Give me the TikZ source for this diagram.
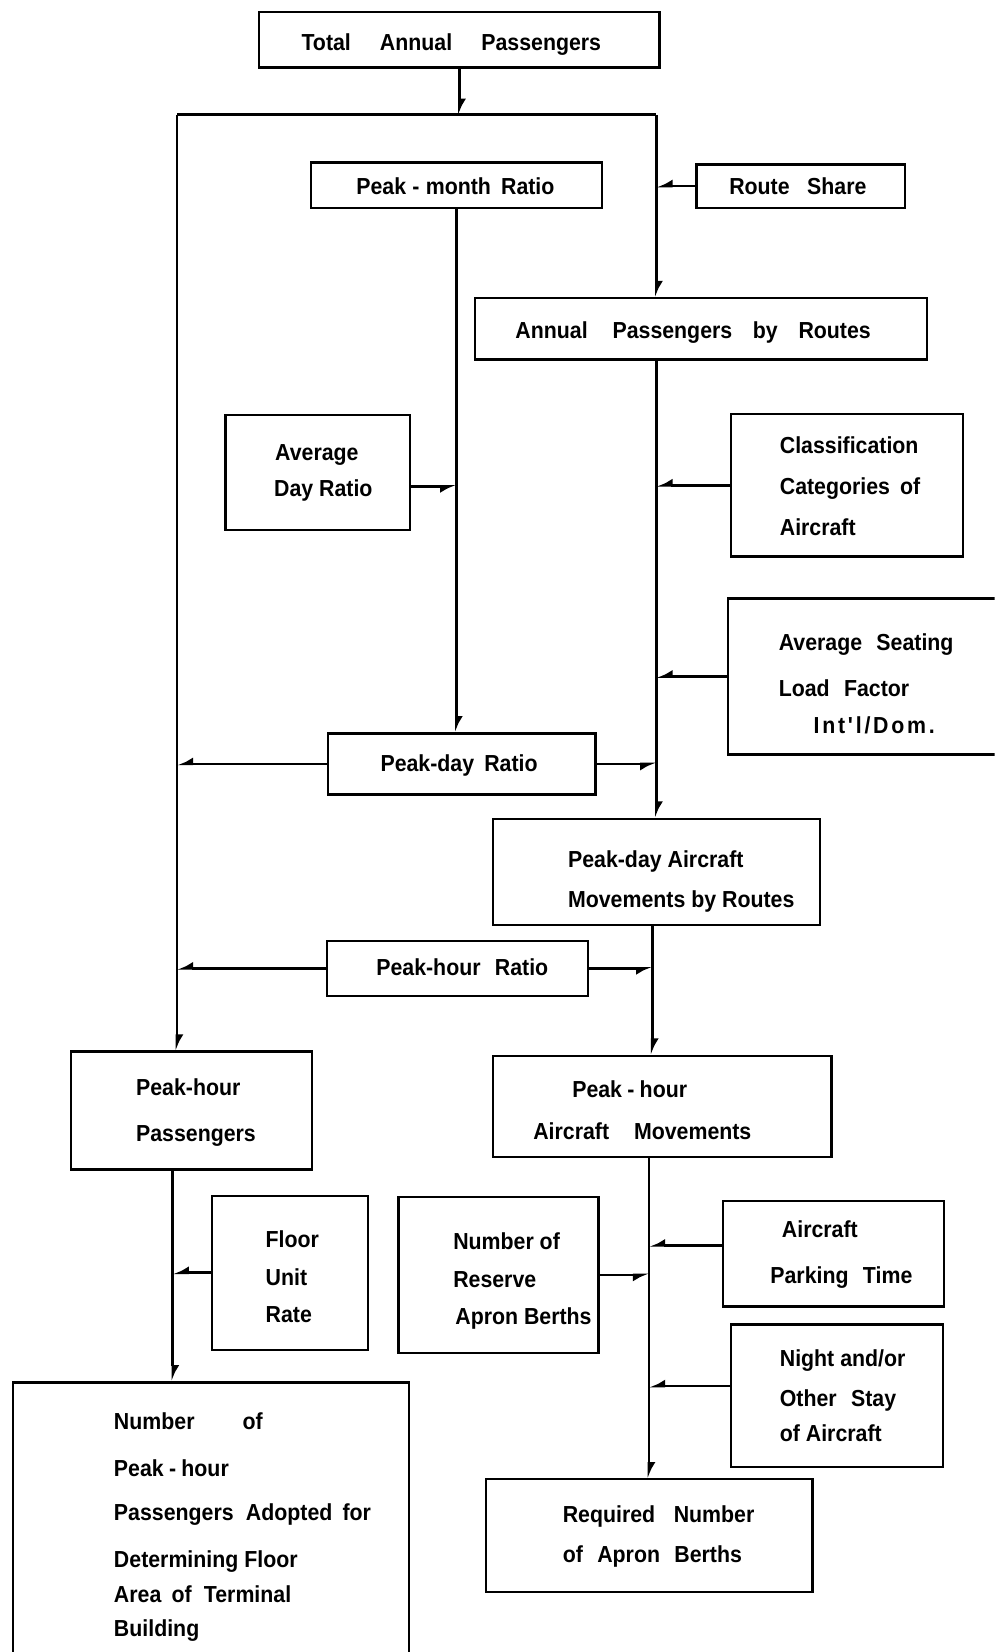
\documentclass[tikz,border=0pt]{standalone}
\usepackage{fontspec}
\usetikzlibrary{arrows.meta}
\newfontfamily\labfont[FakeStretch=0.92]{Liberation Sans}
\newcommand{\wgap}[1]{\hspace{#1pt}}
\newcommand{\tline}[4]{\node[txt] (#1) at (#2,#3) {#4};}
\newcommand{\bx}[5]{\node[boxed, minimum width={(#4-#2)*1pt}, minimum height={(#5-#3)*1pt}] (#1) at (#2,#3) {};}
\tikzset{
  boxed/.style={draw, line width=2.2pt, inner sep=0pt, anchor=north west},
  txt/.style={font=\labfont\bfseries\fontsize{22}{26}\selectfont, inner sep=0pt, anchor=base west},
  conn/.style={line width=2.6pt},
  link/.style={conn, -{Latex[harpoon, length=12pt, width=13pt]}},
  linkb/.style={conn, -{Latex[harpoon, swap, length=12pt, width=13pt]}}
}
\begin{document}
\begin{tikzpicture}[x=1pt, y=-1pt]
\fill[white] (0,0) rectangle (944,1568);
\path[use as bounding box] (0,0) rectangle (944,1568);
\clip (0,0) rectangle (944,1568);

% boxes
\bx{tot}{245}{10}{625}{63}
\bx{pmr}{294}{153}{570}{196}
\bx{rs}{660}{155}{858}{196}
\bx{apr}{450}{282}{879}{340}
\bx{adr}{213}{393}{388}{502}
\bx{cca}{693}{392}{913}{527}
\bx{asl}{690}{567}{960}{715}
\bx{pdr}{310}{695}{564}{753}
\bx{pdac}{467}{776}{777}{877}
\bx{phr}{309}{892}{557}{944}
\bx{php}{66}{997}{295}{1109}
\bx{pham}{467}{1001}{788}{1097}
\bx{fur}{200}{1134}{348}{1280}
\bx{nrab}{377}{1135}{567}{1283}
\bx{apt}{685}{1139}{895}{1239}
\bx{nos}{693}{1256}{894}{1391}
\bx{rnab}{460}{1403}{770}{1510}
\bx{nph}{11}{1311}{387}{1600}

% texts
\tline{t1}{286}{47.5}{Total \wgap{22}Annual \wgap{22}Passengers}
\tline{t2}{338}{185}{Peak\kern6pt-\kern6pt month \wgap{4}Ratio}
\tline{t3}{692}{185}{Route \wgap{11}Share}
\tline{t4}{489}{321}{Annual \wgap{18}Passengers \wgap{14}by \wgap{14}Routes}
\tline{t5a}{261}{437}{Average}
\tline{t5b}{260}{471}{Day Ratio}
\tline{t6a}{740}{430}{Classification}
\tline{t6b}{740}{469}{Categories \wgap{4}of}
\tline{t6c}{740}{508}{Aircraft}
\tline{t7a}{739}{617}{Average \wgap{8}Seating}
\tline{t7b}{739}{661}{Load \wgap{8}Factor}
\tline{t7c}{772}{696}{\addfontfeature{LetterSpace=12}Int'l/Dom.}
\tline{t8}{361}{732}{Peak-day \wgap{4}Ratio}
\tline{t9a}{539}{823}{Peak-day Aircraft}
\tline{t9b}{539}{861}{Movements by Routes}
\tline{t10}{357}{926}{Peak-hour \wgap{8}Ratio}
\tline{t11a}{129}{1040}{Peak-hour}
\tline{t11b}{129}{1083}{Passengers}
\tline{t12a}{543}{1042}{Peak\kern5pt-\kern5pt hour}
\tline{t12b}{506}{1082}{Aircraft \wgap{18}Movements}
\tline{t13a}{252}{1184}{Floor}
\tline{t13b}{252}{1220}{Unit}
\tline{t13c}{252}{1255}{Rate}
\tline{t14a}{430}{1186}{Number of}
\tline{t14b}{430}{1222}{Reserve}
\tline{t14c}{432}{1257}{Apron Berths}
\tline{t15a}{742}{1175}{Aircraft}
\tline{t15b}{731}{1218}{Parking \wgap{8}Time}
\tline{t16a}{740}{1297}{Night and/or}
\tline{t16b}{740}{1335}{Other \wgap{8}Stay}
\tline{t16c}{740}{1368}{of Aircraft}
\tline{t17a}{534}{1445}{Required \wgap{12}Number}
\tline{t17b}{534}{1483}{of \wgap{8}Apron \wgap{8}Berths}
\tline{t18a}{108}{1357}{Number \wgap{40}of}
\tline{t18b}{108}{1401}{Peak\kern5pt-\kern5pt hour}
\tline{t18c}{108}{1443}{Passengers \wgap{6}Adopted \wgap{4}for}
\tline{t18d}{108}{1488}{Determining Floor}
\tline{t18e}{108}{1521}{Area \wgap{4}of \wgap{6}Terminal}
\tline{t18f}{108}{1553}{Building}

% junction coordinates
\coordinate (jl) at (168,109);
\coordinate (jr) at (623,109);
\coordinate (jk) at (619,918);
\coordinate (lx) at (164,1208);
\coordinate (mx) at (616,1212);

% connectors
\draw[link] (tot.south) -- (tot.south |- jl);
\draw[conn] (jl) -- (jr);
\draw[link] (jl) -- (jl |- php.north);
\draw[link] (jr) -- (jr |- apr.north);
\draw[linkb] (rs.west) -- (rs.west -| jr);
\draw[link] (pmr.south) -- (pmr.south |- pdr.north);
\draw[linkb] ([yshift=-13pt]adr.east) -- ([yshift=-13pt]adr.east -| pmr.south);
\draw[link] (apr.south -| jr) -- (jr |- pdac.north);
\draw[linkb] (cca.west) -- (cca.west -| jr);
\draw[linkb] (asl.west) -- (asl.west -| jr);
\draw[linkb] (pdr.west) -- (pdr.west -| jl);
\draw[linkb] (pdr.east) -- (pdr.east -| jr);
\draw[link] (pdac.south -| jk) -- (jk |- pham.north);
\draw[linkb] (phr.west) -- (phr.west -| jl);
\draw[linkb] (phr.east) -- (phr.east -| jk);
\draw[link] (php.south -| lx) -- (lx |- nph.north);
\draw[linkb] (fur.west) -- (fur.west -| lx);
\draw[link] (pham.south -| mx) -- (mx |- rnab.north);
\draw[linkb] (nrab.east) -- (nrab.east -| mx);
\draw[linkb] ([yshift=8pt]apt.west) -- ([yshift=8pt]apt.west -| mx);
\draw[linkb] ([yshift=9pt]nos.west) -- ([yshift=9pt]nos.west -| mx);
\end{tikzpicture}
\end{document}
